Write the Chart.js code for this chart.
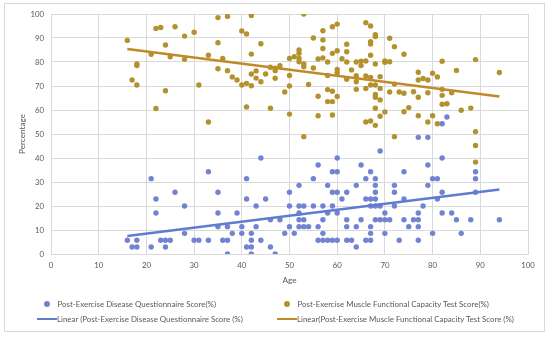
<!DOCTYPE html>
<html><head><meta charset="utf-8">
<script src="https://cdn.jsdelivr.net/npm/chart.js@4/dist/chart.umd.min.js"></script>
<style>
html,body{margin:0;padding:0;background:#fff;}
#wrap{position:relative;width:550px;height:337px;}
#frame{position:absolute;left:4px;top:3px;width:541px;height:329px;border:1px solid #d9d9d9;box-sizing:border-box;}
canvas{position:absolute;left:0;top:0;}
.lg{position:absolute;font-family:Lato,"Liberation Sans",sans-serif;font-size:7.9px;color:#595959;white-space:nowrap;line-height:10px;height:10px;}
.mk{position:absolute;}
</style></head>
<body><div id="wrap"><div id="frame"></div><canvas id="c" width="550" height="337"></canvas>
<div id="legend"></div></div>
<script>
const diseaseLabel = "Post-Exercise Disease Questionnaire Score(%)";
const muscleLabel = "Post-Exercise Muscle Functional Capacity Test Score(%)";
const diseaseTrendLabel = "Linear (Post-Exercise Disease Questionnaire Score (%)";
const muscleTrendLabel = "Linear(Post-Exercise Muscle Functional Capacity Test Score (%)";

const diseaseAge = [16,17,18,18,21,21,22,22,23,24,24,25,26,28,28,30,31,33,33,35,35,35,36,37,37,37,38,39,40,40,41,41,41,42,42,42,42,43,43,44,44,45,46,46,47,48,49,50,50,50,51,52,52,52,52,52,53,53,53,54,55,55,56,56,56,57,57,57,57,58,58,58,59,59,59,59,60,60,60,60,60,61,62,62,62,62,63,64,64,64,65,65,66,66,66,67,67,67,67,67,67,68,68,68,68,68,68,69,69,69,70,70,70,71,72,72,72,73,74,74,74,75,76,77,77,77,77,77,78,79,79,79,80,80,81,81,82,82,82,82,83,84,85,86,88,89,89,89,94];
const diseaseScore = [5.7,2.9,5.7,2.9,31.4,2.9,22.9,17.1,5.7,5.7,2.9,5.7,25.7,20,8.6,5.7,5.7,34.3,5.7,25.7,17.1,11.4,5.7,11.4,5.7,0,8.6,17.1,11.4,8.6,31.4,22.9,2.9,8.6,5.7,2.9,0,20,11.4,40,5.7,22.9,14.3,2.9,0,14.3,8.6,25.7,20,11.4,8.6,28.6,20,17.1,14.3,11.4,20,14.3,11.4,11.4,31.4,20,37.1,11.4,5.7,20,14.3,8.6,5.7,28.6,17.1,5.7,34.3,25.7,20,5.7,40,34.3,25.7,17.1,5.7,22.9,25.7,14.3,11.4,5.7,5.7,28.6,11.4,2.9,37.1,14.3,31.4,22.9,5.7,34.3,22.9,20,11.4,8.6,5.7,31.4,28.6,25.7,22.9,20,14.3,42.9,20,14.3,17.1,14.3,8.6,14.3,28.6,25.7,20,5.7,34.3,22.9,14.3,11.4,14.3,48.6,17.1,14.3,11.4,5.7,20,48.6,37.1,28.6,31.4,8.6,31.4,22.9,54.3,40,25.7,17.1,57.1,17.1,14.3,8.6,14.3,34.3,31.4,25.7,14.3];

const muscleAge = [16,17,18,18,18,21,22,22,23,24,24,25,26,28,28,30,31,33,33,35,35,35,36,37,37,38,39,40,40,41,41,41,42,42,42,42,43,43,44,44,45,46,46,47,47,47,48,49,50,50,50,50,51,52,52,52,52,53,53,53,53,54,55,55,56,56,56,57,57,57,57,58,58,58,58,59,59,59,59,59,60,60,60,60,60,61,62,62,62,62,63,64,64,64,64,65,65,66,66,66,66,66,67,67,67,67,67,67,67,68,68,68,68,68,68,68,68,69,69,69,69,70,70,70,71,71,71,72,72,72,73,74,74,74,75,76,77,77,77,77,78,79,79,79,80,80,81,81,82,82,82,82,83,84,85,86,88,89,89,89,89,94];
const muscleScore = [89,72.5,79.2,78.5,70.4,83.2,94,60.6,94.4,87.1,68,82.2,94.7,90.8,81.1,92.4,70.4,82.8,55,98.5,88,77.2,81.5,99,76.4,73.8,72.5,92.9,70.4,91.7,71.1,61.3,99.4,83.3,75,70.1,76.3,73.3,87.6,71.8,75,77.8,60.7,77.4,76.4,73.2,78.5,67.5,81.5,74.4,70,58.3,82.2,85,83.6,81.5,80.1,100,79.2,78,48.9,70.6,90,77.5,81.3,65.7,57.6,93,89.2,85.6,81.7,80,74.4,68.5,63.5,94.7,83.6,67.8,63.5,57.9,95.8,84.7,76.9,75.4,65.6,81.4,87.4,84.3,80,72.8,76.7,80,74.3,71.8,68.6,80.3,78.5,96.4,80.4,74.2,69,55,95,88.5,87.5,82.8,73.6,70.4,55.4,91.4,90.6,79.2,70.4,66.5,65.3,60.7,53.6,73.9,69,64.2,57.4,80.4,79.9,59.2,89.9,80.1,67.5,86.4,70.8,48.9,67.5,83.2,67,59.3,61,67.6,75.7,72.5,65.3,57.6,73.1,72.5,67.2,55,75.3,57.6,73.8,54.3,80.3,68.6,66.1,62.4,62.6,67.2,76.5,59.9,60.8,81,51,45.2,38.3,75.6];

const diseaseTrendAge = [16, 94];
const diseaseTrendScore = [7.5, 26.9];
const muscleTrendAge = [16, 94];
const muscleTrendScore = [85.4, 65.6];

const xTicks = [0,10,20,30,40,50,60,70,80,90,100];
const yTicks = [0,10,20,30,40,50,60,70,80,90,100];

const blue = '#7283d2', blueLine = '#5f7cd1';
const gold = '#b3922e', goldLine = '#c08a28';

const pts = (xs, ys) => xs.map((x, i) => ({x, y: ys[i]}));
const tickFont = {family: 'Lato, "Liberation Sans", sans-serif', size: 7.8};
const titleFont = {family: 'Lato, "Liberation Sans", sans-serif', size: 8.2};

new Chart(document.getElementById('c'), {
  type: 'scatter',
  data: {datasets: [
    {label: diseaseTrendLabel, type: 'line', data: pts(diseaseTrendAge, diseaseTrendScore), borderColor: blueLine, borderWidth: 2.5, pointRadius: 0, fill: false, order: 0},
    {label: muscleTrendLabel, type: 'line', data: pts(muscleTrendAge, muscleTrendScore), borderColor: goldLine, borderWidth: 2.5, pointRadius: 0, fill: false, order: 0},
    {label: diseaseLabel, data: pts(diseaseAge, diseaseScore), backgroundColor: blue, borderWidth: 0, pointRadius: 2.7, order: 1},
    {label: muscleLabel, data: pts(muscleAge, muscleScore), backgroundColor: gold, borderWidth: 0, pointRadius: 2.7, order: 1}
  ]},
  options: {
    responsive: false, animation: false,
    layout: {padding: {left: 5, right: 22, top: 14, bottom: 48}},
    plugins: {legend: {display: false}, tooltip: {enabled: false}},
    scales: {
      x: {type: 'linear', min: 0, max: 100,
        afterBuildTicks: s => { s.ticks = xTicks.map(v => ({value: v})); },
        afterFit: s => { s.height = 35; },
        grid: {color: '#d9d9d9', drawTicks: false}, border: {color: '#d9d9d9'},
        ticks: {color: '#595959', font: tickFont, padding: 7},
        title: {display: true, text: 'Age', color: '#595959', font: titleFont, padding: {top: 0, bottom: 4}}},
      y: {type: 'linear', min: 0, max: 100,
        afterBuildTicks: s => { s.ticks = yTicks.map(v => ({value: v})); },
        afterFit: s => { s.width = 46; },
        grid: {color: '#d9d9d9', drawTicks: false}, border: {color: '#d9d9d9'},
        ticks: {color: '#595959', font: tickFont, padding: 7},
        title: {display: true, text: 'Percentage', color: '#595959', font: titleFont, padding: {top: 12, bottom: 0}}}
    }
  }
});

const lg = document.getElementById('legend');
function mark(style) { const d = document.createElement('div'); d.className = 'mk'; Object.assign(d.style, style); lg.appendChild(d); }
function text(t, l, cy) { const d = document.createElement('div'); d.className = 'lg'; d.style.left = l + 'px'; d.style.top = (cy - 5) + 'px'; d.textContent = t; lg.appendChild(d); }
mark({left: '43.7px', top: '301.3px', width: '6px', height: '6px', borderRadius: '50%', background: blue});
text(diseaseLabel, 57.5, 304.3);
mark({left: '283.7px', top: '301.3px', width: '6px', height: '6px', borderRadius: '50%', background: gold});
text(muscleLabel, 297.5, 304.3);
mark({left: '36.5px', top: '318.3px', width: '20px', height: '2px', background: blueLine});
text(diseaseTrendLabel, 57, 319.3);
mark({left: '276.5px', top: '318.3px', width: '20px', height: '2px', background: goldLine});
text(muscleTrendLabel, 297, 319.3);
</script></body></html>
